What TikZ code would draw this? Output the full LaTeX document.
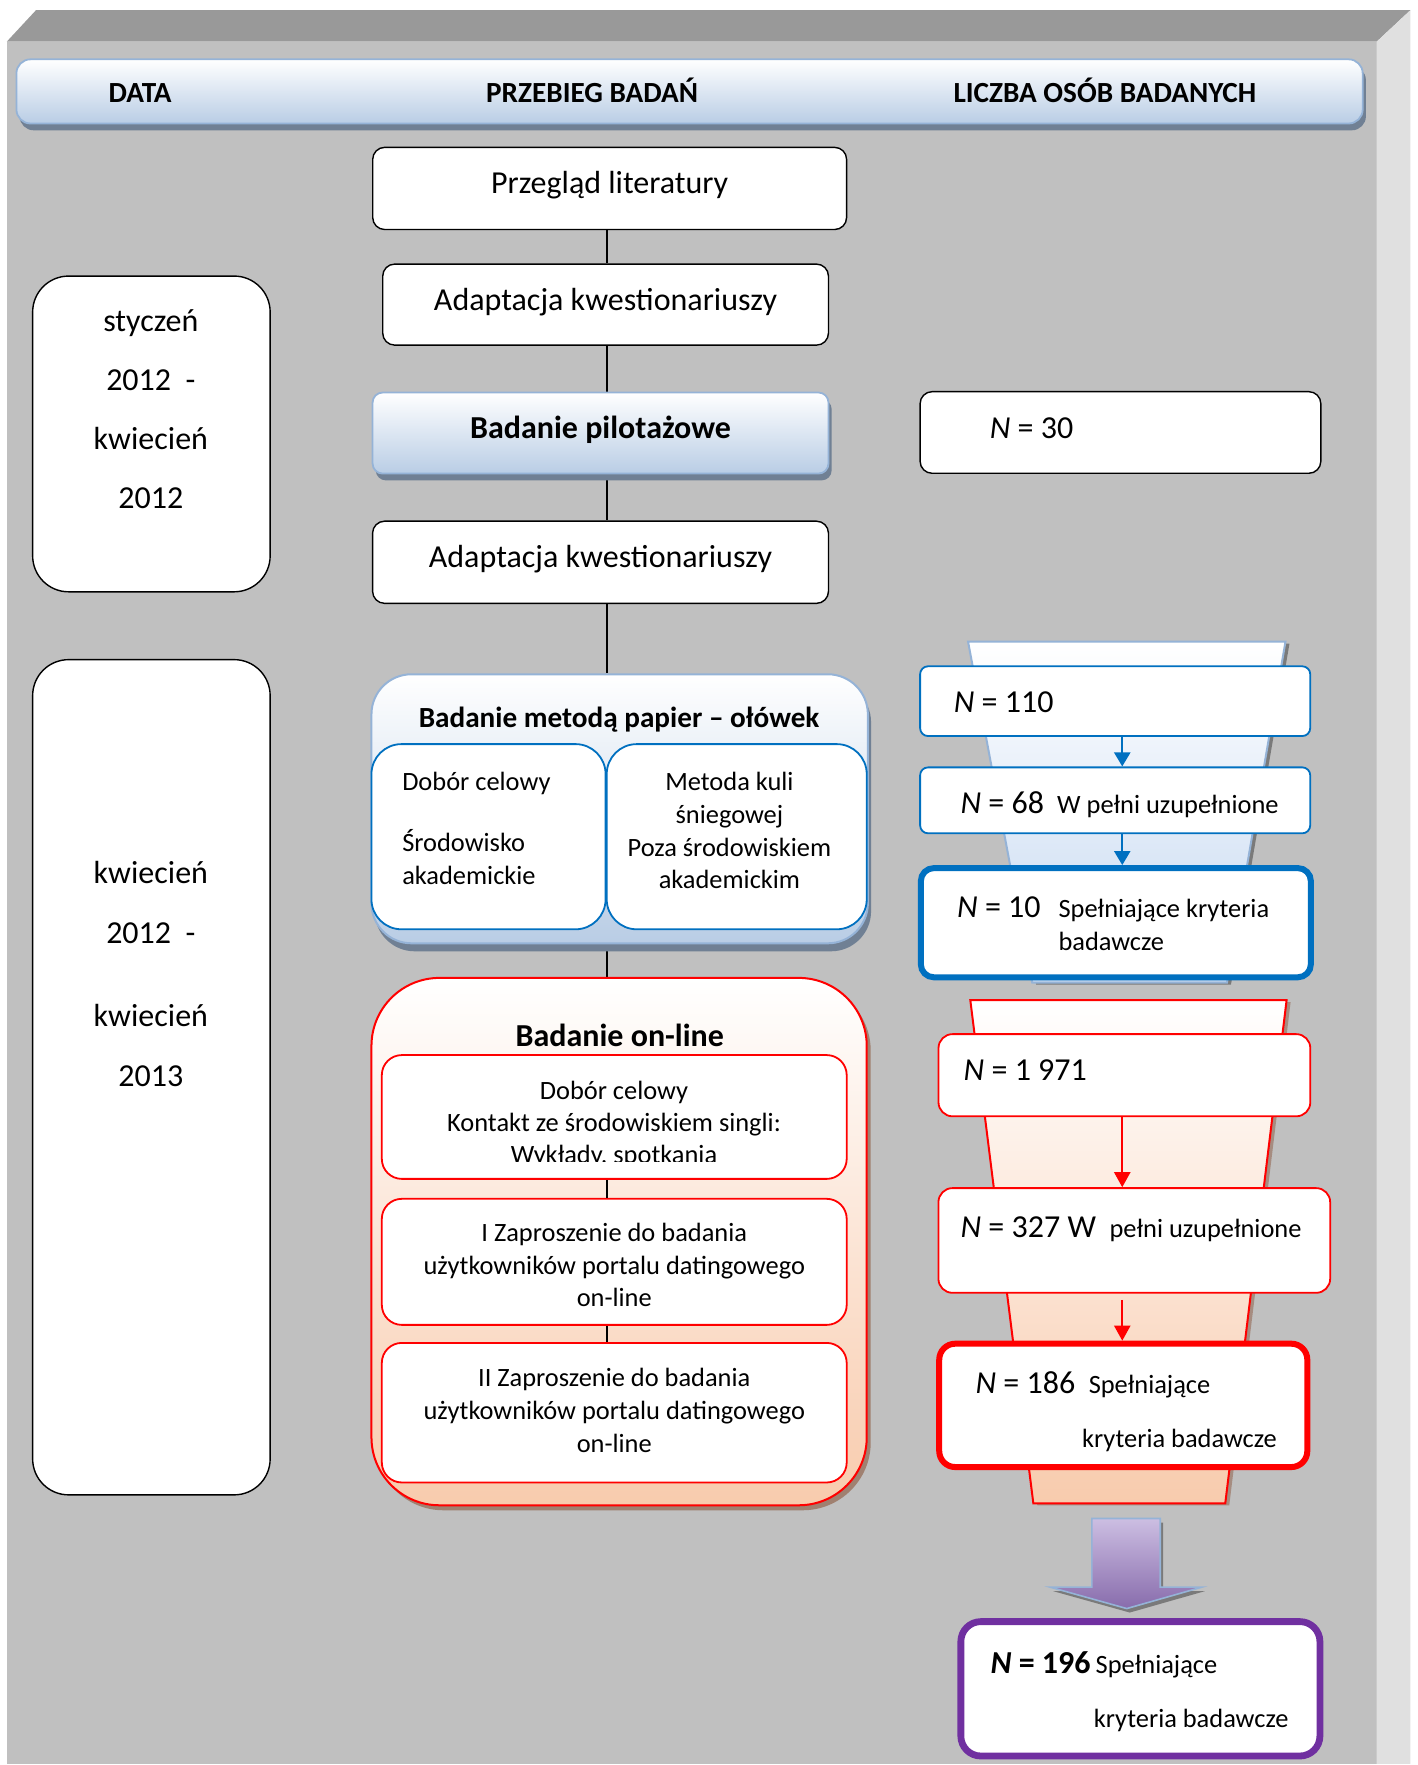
\documentclass[tikz,border=0pt]{standalone}
\usepackage{fontspec}
\setmainfont{Carlito}
\usepackage{xcolor}
\usepackage{tikz}
\usetikzlibrary{arrows.meta, positioning, shadows, calc}

\definecolor{szary_przod}{RGB}{192, 192, 192}
\definecolor{szary_gora}{RGB}{153, 153, 153}
\definecolor{szary_bok}{RGB}{224, 224, 224}
\definecolor{nieb_jasny}{RGB}{185, 205, 229}
\definecolor{nieb_ramka}{RGB}{149, 179, 215}
\definecolor{nieb_cien}{RGB}{112, 128, 148}
\definecolor{nieb_mid}{RGB}{0, 112, 192}
\definecolor{nieb_lejek}{RGB}{198, 217, 241}
\definecolor{brzoskwinia}{RGB}{248, 203, 173}
\definecolor{braz_cien}{RGB}{160, 128, 112}
\definecolor{fiolet_mid}{RGB}{112, 48, 160}
\definecolor{fiolet_jasny}{RGB}{204, 190, 226}
\definecolor{fiolet_ciemny}{RGB}{136, 108, 172}

\newcommand{\skala}{0.56275pt}
\newcommand{\duzy}{\fontsize{16}{19}\selectfont}
\newcommand{\maly}{\fontsize{13.2}{16.3}\selectfont}

\pgfdeclarelayer{tlo}
\pgfdeclarelayer{linie}
\pgfsetlayers{tlo,linie,main}

\tikzset{
  etap/.style={draw=black, line width=0.7pt, fill=white, rounded corners=6pt, inner sep=0pt,
    font=\duzy, text height=10.5pt, text depth=5.1pt},
  naglowek/.style={draw=nieb_ramka, line width=0.9pt, top color=white, bottom color=nieb_jasny,
    rounded corners=7pt, inner sep=0pt,
    drop shadow={shadow xshift=1.6pt, shadow yshift=-3.4pt, fill=nieb_cien, opacity=1}},
  tytul/.style={inner sep=0pt, yshift=-1.2pt, font=\fontsize{14.6}{17}\selectfont\bfseries},
  okres/.style={draw=black, line width=0.7pt, fill=white, rounded corners=18pt, inner sep=0pt,
    minimum width=211*\skala},
  grupa1/.style={draw=nieb_ramka, line width=1pt, top color=white, bottom color=nieb_jasny,
    rounded corners=20pt, inner sep=0pt,
    drop shadow={shadow xshift=1.6pt, shadow yshift=-4pt, fill=nieb_cien, opacity=1}},
  grupa2/.style={draw=red, line width=1pt, top color=white, bottom color=brzoskwinia,
    rounded corners=34pt, inner sep=0pt,
    drop shadow={shadow xshift=2pt, shadow yshift=-2.5pt, fill=braz_cien, opacity=1}},
  pole1/.style={draw=nieb_mid, line width=0.9pt, fill=white, rounded corners=15pt, inner sep=0pt},
  pole2/.style={draw=red, line width=0.9pt, fill=white, rounded corners=10pt, inner sep=0pt},
  liczba1/.style={draw=nieb_mid, line width=0.9pt, fill=white, rounded corners=4pt, inner sep=0pt},
  liczba2/.style={draw=red, line width=0.9pt, fill=white, rounded corners=7pt, inner sep=0pt},
  tekst/.style={inner sep=0pt, anchor=base west, yshift=-1pt},
  akapit/.style={inner sep=0pt, align=center, font=\maly},
  linia/.style={draw=black, line width=0.8pt},
  strzalka1/.style={draw=nieb_mid, line width=1.1pt, -{Triangle[width=8pt,length=7pt]}},
  strzalka2/.style={draw=red, line width=1.1pt, -{Triangle[width=8pt,length=7.5pt]}},
  lejek1/.style={draw=nieb_ramka, line width=1pt, top color=white, bottom color=nieb_lejek,
    drop shadow={shadow xshift=2pt, shadow yshift=-1pt, fill=gray!60!black, opacity=.6}},
  lejek2/.style={draw=red, line width=1pt, top color=white, bottom color=brzoskwinia,
    drop shadow={shadow xshift=2pt, shadow yshift=-1pt, fill=braz_cien, opacity=.8}},
  strzala/.style={draw=nieb_ramka, line width=0.8pt, top color=fiolet_jasny, bottom color=fiolet_ciemny,
    drop shadow={shadow xshift=1.5pt, shadow yshift=-2pt, fill=gray!60!black, opacity=.6}}
}

\begin{document}
\begin{tikzpicture}[x=\skala, y=-\skala]
\useasboundingbox (0,0) rectangle (1259,1568);

% tlo
\begin{pgfonlayer}{tlo}
  \fill[szary_przod] (6,37) rectangle (1223,1567);
  \fill[szary_gora] (6,37) -- (32,9) -- (1253,9) -- (1223,37) -- cycle;
  \fill[szary_bok] (1223,37) -- (1253,9) -- (1253,1567) -- (1223,1567) -- cycle;
\end{pgfonlayer}

% naglowek
\node[naglowek, minimum width=1196*\skala, minimum height=57*\skala] (naglowek) at (612.6,81.2) {};
\node[tytul, anchor=base] (h_data) at (124.5,88.9) {DATA};
\node[tytul, anchor=base] (h_przebieg) at (526,88.9) {PRZEBIEG BADAŃ};
\node[tytul, anchor=base] (h_liczba) at (981.5,88.9) {LICZBA OSÓB BADANYCH};

% daty
\node[okres, minimum height=280.5*\skala] (okres1) at (134.5,385.5) {};
\node[inner sep=0pt, align=center, font=\fontsize{16}{29.5}\selectfont] (okres1_t) at (134,363.3)
  {styczeń\\2012\ \ -\\kwiecień\\2012};
\node[okres, minimum height=742*\skala] (okres2) at (134.5,957) {};
\node[inner sep=0pt, align=center, font=\fontsize{16}{30}\selectfont] (okres2_t) at (134,865.2)
  {kwiecień\\2012\ \ -\\[11.7pt]kwiecień\\2013};

% przebieg badan
\coordinate (os) at (539,0);
\node[etap, minimum width=421*\skala, minimum height=73*\skala] (literatura) at (541.6,167.4) {Przegląd literatury};
\node[etap, minimum width=396*\skala, minimum height=72*\skala] (adaptacja1) at (538,270.6) {Adaptacja kwestionariuszy};
\node[naglowek, font=\duzy\bfseries, text height=10.5pt, text depth=5.1pt, rounded corners=5pt,
  minimum width=405*\skala, minimum height=72*\skala] (pilot) at (533.5,384.7) {Badanie pilotażowe};
\node[etap, minimum width=405*\skala, minimum height=73*\skala] (adaptacja2) at (533.5,499.5) {Adaptacja kwestionariuszy};

\node[grupa1, minimum width=441*\skala, minimum height=239*\skala] (papier) at (550.5,718.5) {};
\node[tytul, anchor=base] (papier_t) at (550,644) {Badanie metodą papier – ołówek};
\node[pole1, minimum width=208*\skala, minimum height=164.5*\skala] (celowy) at (434,743.3) {};
\node[pole1, minimum width=231*\skala, minimum height=164.5*\skala] (kula) at (654.5,743.3) {};
\node[akapit, align=left, anchor=north west] (celowy_t) at (357,686)
  {Dobór celowy\\[14pt]Środowisko\\akademickie};
\node[akapit] (kula_t) at (648,738)
  {Metoda kuli\\śniegowej\\Poza środowiskiem\\akademickim};

\node[grupa2, minimum width=440*\skala, minimum height=468.5*\skala] (online) at (550,1103) {};
\node[tytul, font=\duzy\bfseries, anchor=base] (online_t) at (550.6,927.6) {Badanie on-line};
\node[pole2, minimum width=413*\skala, minimum height=110*\skala] (kontakt) at (545.7,992.3) {};
\begin{scope}
  \clip (339,937) rectangle (752,1031.5);
  \node[akapit, anchor=north, font=\fontsize{13.2}{15.9}\selectfont] (kontakt_t)
    at (545.5,960.5) {Dobór celowy\\Kontakt ze środowiskiem singli:\\Wykłady, spotkania};
\end{scope}
\node[pole2, minimum width=413*\skala, minimum height=112*\skala] (zapr1) at (545.7,1121) {};
\node[akapit] (zapr1_t) at (545.7,1124)
  {I Zaproszenie do badania\\użytkowników portalu datingowego\\on-line};
\node[pole2, minimum width=413*\skala, minimum height=124*\skala] (zapr2) at (545.7,1255) {};
\node[akapit] (zapr2_t) at (545.7,1253)
  {II Zaproszenie do badania\\użytkowników portalu datingowego\\on-line};
\draw[linia] (kontakt.south -| os) -- (zapr1.north -| os);
\draw[linia] (zapr1.south -| os) -- (zapr2.north -| os);

\begin{pgfonlayer}{linie}
  \draw[linia] (literatura.south -| os) -- (adaptacja1.north -| os);
  \draw[linia] (adaptacja1.south -| os) -- (pilot.north -| os);
  \draw[linia] (pilot.south -| os) -- (adaptacja2.north -| os);
  \draw[linia] (adaptacja2.south -| os) -- (papier.north -| os);
  \draw[linia] (papier.south -| os) -- (online.north -| os);
\end{pgfonlayer}

% liczba osob
\coordinate (lejek_os) at (997,0);
\node[etap, minimum width=356*\skala, minimum height=72.5*\skala] (n30) at (995.4,384.2) {};
\node[tekst, font=\duzy] (n30_t) at (879,387.4) {\textit{N} = 30};

\draw[lejek1] (860,570) -- (1142,570) -- (1090,873) -- (917,873) -- cycle;
\node[liczba1, minimum width=346.6*\skala, minimum height=62*\skala] (n110) at (990.7,622.9) {};
\node[liczba1, minimum width=346.6*\skala, minimum height=58.6*\skala] (n68) at (990.7,711) {};
\node[liczba1, line width=3pt, rounded corners=6.5pt, minimum width=346.5*\skala, minimum height=97*\skala] (n10) at (991.3,819.7) {};
\node[tekst, font=\duzy] (n110_t) at (847,631) {\textit{N} = 110};
\node[tekst, font=\duzy] (n68_t) at (853,721) {\makebox[48.3pt][l]{\textit{N} = 68}{\maly W pełni uzupełnione}};
\node[tekst, font=\duzy] (n10_t) at (850,813) {\makebox[50.7pt][l]{\textit{N} = 10}{\maly Spełniające kryteria}};
\node[tekst, font=\maly] (n10_t2) at (940,842.5) {badawcze};
\draw[strzalka1] (n110.south -| lejek_os) -- (n68.north -| lejek_os);
\draw[strzalka1] (n68.south -| lejek_os) -- (n10.north -| lejek_os);

\draw[lejek2] (862,888.5) -- (1143,888.5) -- (1088.5,1335.6) -- (918,1335.6) -- cycle;
\node[liczba2, minimum width=330.3*\skala, minimum height=73*\skala] (n1971) at (998.9,955.2) {};
\node[liczba2, minimum width=348*\skala, minimum height=93*\skala] (n327) at (1007.7,1102) {};
\node[liczba2, line width=3pt, rounded corners=8pt, minimum width=327*\skala, minimum height=109.6*\skala] (n186) at (997.9,1248.5) {};
\node[tekst, font=\duzy] (n1971_t) at (855.8,958) {\textit{N} = 1 971};
\node[tekst, font=\duzy] (n327_t) at (853,1097.3) {\makebox[74.5pt][l]{\textit{N} = 327 W}{\maly pełni uzupełnione}};
\node[tekst, font=\duzy] (n186_t) at (866.3,1236.5) {\makebox[56.6pt][l]{\textit{N} = 186}{\maly Spełniające}};
\node[tekst, font=\maly] (n186_t2) at (961,1284) {kryteria badawcze};
\draw[strzalka2] (n1971.south -| lejek_os) -- (n327.north -| lejek_os);
\draw[strzalka2, shorten <=3.1pt] (n327.south -| lejek_os) -- (n186.north -| lejek_os);

\draw[strzala] (970,1349) -- (1030.7,1349) -- (1030.7,1410) -- (1067.7,1410) -- (1001,1429)
  -- (933,1410) -- (970,1410) -- cycle;
\node[liczba1, draw=fiolet_mid, line width=3.4pt, rounded corners=10pt, minimum width=319*\skala, minimum height=119.4*\skala] (n196) at (1013.1,1500.3) {};
\node[tekst, font=\duzy] (n196_t) at (879.6,1485.3) {\makebox[52.6pt][l]{\textbf{\textit{N} = 196}}{\maly Spełniające}};
\node[tekst, font=\maly] (n196_t2) at (971.4,1532.7) {kryteria badawcze};
\end{tikzpicture}
\end{document}
